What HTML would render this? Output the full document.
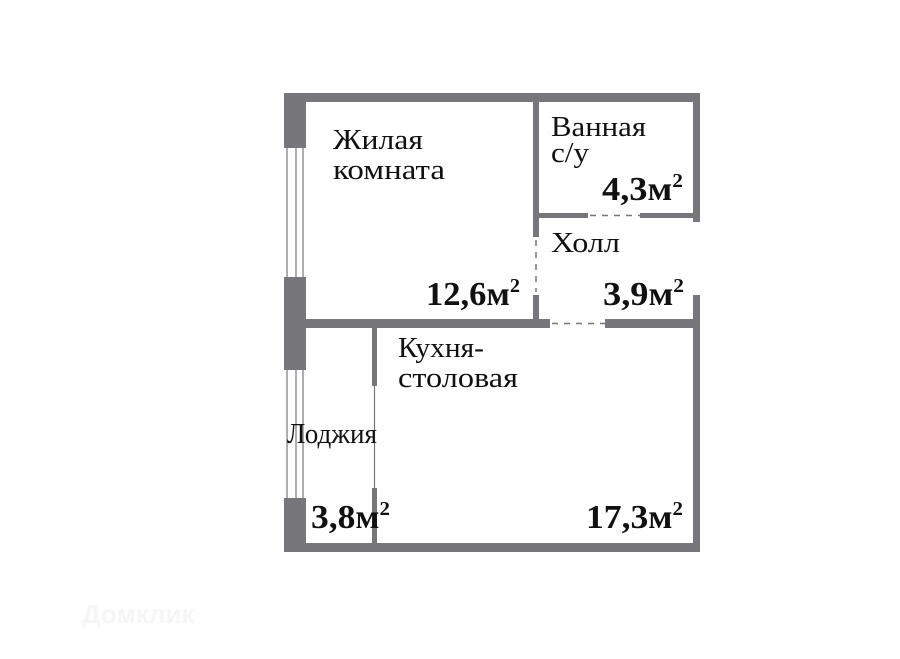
<!DOCTYPE html>
<html><head><meta charset="utf-8"><style>
html,body{margin:0;padding:0;background:#fff;width:900px;height:659px;overflow:hidden}
svg{display:block}
.t{font-family:"Liberation Serif",serif;font-size:29px;fill:#111}
.b{font-family:"Liberation Serif",serif;font-size:34px;font-weight:bold;fill:#111}
.s{font-size:20px}
</style></head><body>
<svg width="900" height="659" viewBox="0 0 900 659" xmlns="http://www.w3.org/2000/svg">
<g fill="#77777b">
<rect x="284" y="93" width="416" height="9"/>
<rect x="284" y="93" width="22" height="55"/>
<rect x="284" y="277" width="22" height="93"/>
<rect x="284" y="498" width="22" height="54"/>
<rect x="693" y="93" width="7" height="129"/>
<rect x="533" y="93" width="6" height="144"/>
<rect x="533" y="213" width="55" height="5"/>
<rect x="640" y="213" width="60" height="5"/>
<rect x="533" y="295" width="6" height="33"/>
<rect x="306" y="319" width="244" height="9"/>
<rect x="605" y="319" width="95" height="9"/>
<rect x="693" y="295" width="7" height="257"/>
<rect x="284" y="543" width="416" height="9"/>
<rect x="372" y="328" width="5" height="58"/>
<rect x="372" y="488" width="5" height="64"/>
</g>
<g stroke="#77777b" stroke-width="1.2" fill="none">
<line x1="287" y1="148" x2="287" y2="277"/>
<line x1="296" y1="148" x2="296" y2="277"/>
<line x1="303" y1="148" x2="303" y2="277"/>
<line x1="287" y1="370" x2="287" y2="498"/>
<line x1="296" y1="370" x2="296" y2="498"/>
<line x1="303" y1="370" x2="303" y2="498"/>
<line x1="374.5" y1="386" x2="374.5" y2="488"/>
</g>
<g stroke="#77777b" stroke-width="1.5" stroke-dasharray="6,6" fill="none">
<line x1="590" y1="215.5" x2="640" y2="215.5"/>
<line x1="536" y1="240" x2="536" y2="292"/>
<line x1="552" y1="323.5" x2="605" y2="323.5"/>
</g>
<g lengthAdjust="spacingAndGlyphs">
<text class="t" x="333" y="149" textLength="90" lengthAdjust="spacingAndGlyphs">Жилая</text>
<text class="t" x="333" y="179" textLength="112" lengthAdjust="spacingAndGlyphs">комната</text>
<text class="t" x="551" y="136" textLength="95" lengthAdjust="spacingAndGlyphs">Ванная</text>
<text class="t" x="551" y="162" textLength="38" lengthAdjust="spacingAndGlyphs">с/у</text>
<text class="t" x="551" y="252" textLength="69" lengthAdjust="spacingAndGlyphs">Холл</text>
<text class="t" x="398" y="357" textLength="86" lengthAdjust="spacingAndGlyphs">Кухня-</text>
<text class="t" x="398" y="387" textLength="120" lengthAdjust="spacingAndGlyphs">столовая</text>
<text class="t" x="287" y="443" textLength="90" lengthAdjust="spacingAndGlyphs">Лоджия</text>
<text class="b" x="426" y="305" textLength="94" lengthAdjust="spacingAndGlyphs">12,6м<tspan class="s" dy="-13">2</tspan></text>
<text class="b" x="602" y="200" textLength="81" lengthAdjust="spacingAndGlyphs">4,3м<tspan class="s" dy="-13">2</tspan></text>
<text class="b" x="603" y="305" textLength="81" lengthAdjust="spacingAndGlyphs">3,9м<tspan class="s" dy="-13">2</tspan></text>
<text class="b" x="311" y="528" textLength="79" lengthAdjust="spacingAndGlyphs">3,8м<tspan class="s" dy="-13">2</tspan></text>
<text class="b" x="586" y="528" textLength="97" lengthAdjust="spacingAndGlyphs">17,3м<tspan class="s" dy="-13">2</tspan></text>
</g>
<text x="82" y="623" font-family="Liberation Sans,sans-serif" font-size="26" font-weight="bold" fill="#f6f6f6">Домклик</text>
</svg>
</body></html>
